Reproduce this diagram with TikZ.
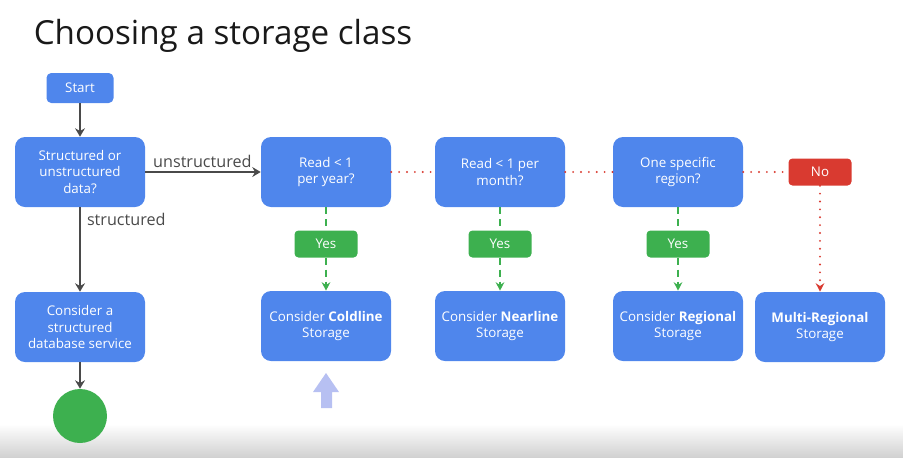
\documentclass[tikz,border=0pt]{standalone}
\usepackage{fontspec}
\setmainfont{Open Sans}
\usepackage{tikz}
\usetikzlibrary{arrows.meta}
\definecolor{gBlue}{HTML}{4F86EC}
\definecolor{gGreen}{HTML}{3DB04F}
\definecolor{gRed}{HTML}{D93A30}
\definecolor{gLine}{HTML}{4A4A4A}
\definecolor{gPointer}{HTML}{B7C0F2}
\tikzstyle{fQuestion} = [rectangle, rounded corners=0.25cm, minimum width=3.25cm, minimum height=1.75cm, align=center, text=white, fill=gBlue, font=\fontsize{9.5}{12}\selectfont]
\tikzstyle{fStart} = [rectangle, rounded corners=0.12cm, minimum width=1.675cm, minimum height=0.75cm, text=white, fill=gBlue, font=\fontsize{9.5}{12}\selectfont]
\tikzstyle{fYes} = [rectangle, rounded corners=0.1cm, minimum width=1.575cm, minimum height=0.675cm, text=white, fill=gGreen, font=\fontsize{9.5}{12}\selectfont]
\tikzstyle{fNo} = [rectangle, rounded corners=0.1cm, minimum width=1.575cm, minimum height=0.675cm, text=white, fill=gRed, font=\fontsize{9.5}{12}\selectfont]
\tikzstyle{fEnd} = [circle, minimum size=1.35cm, inner sep=0pt, fill=gGreen]
\tikzstyle{fArrow} = [line width=1.3pt, draw=gLine, -{Stealth[length=6pt,width=7pt]}]
\tikzstyle{fYesLine} = [line width=1.4pt, draw=gGreen, dash pattern=on 5pt off 3.5pt]
\tikzstyle{fNoLine} = [line width=1.5pt, draw=gRed, line cap=round, dash pattern=on 0pt off 5.6pt]
\tikzstyle{fLabel} = [text=gLine, font=\fontsize{11.5}{14}\selectfont]

\begin{document}
\begin{tikzpicture}[node distance=2cm]
    \useasboundingbox (0,0) rectangle (22.575,-11.425);
    \shade[top color=white, bottom color=black!18] (0,-10.6) rectangle (22.575,-11.425);
    \node (title) [anchor=base west, text=black!90, font=\fontsize{23.6}{28}\selectfont] at (0.72,-1.1) {Choosing a storage class};

    \node (start) [fStart] at (2.0,-2.2) {Start};
    \node (dataKind) [fQuestion, below of=start, yshift=-0.1cm] {Structured or\\unstructured\\data?};
    \node (structDb) [fQuestion, below of=dataKind, yshift=-1.875cm] {Consider a\\structured\\database service};
    \node (finish) [fEnd, below of=structDb, yshift=-0.225cm] {};

    \node (readYear) [fQuestion, right of=dataKind, xshift=4.15cm] {Read < 1\\per year?};
    \node (readMonth) [fQuestion, right of=readYear, xshift=2.35cm] {Read < 1 per\\month?};
    \node (oneRegion) [fQuestion, right of=readMonth, xshift=2.45cm] {One specific\\region?};
    \node (noRegion) [fNo, right of=oneRegion, xshift=1.55cm] {No};

    \node (yesYear) [fYes, below of=readYear, yshift=0.2cm] {Yes};
    \node (yesMonth) [fYes, below of=readMonth, yshift=0.2cm] {Yes};
    \node (yesRegion) [fYes, below of=oneRegion, yshift=0.2cm] {Yes};

    \node (coldline) [fQuestion, below of=yesYear, yshift=-0.05cm] {Consider \textbf{Coldline}\\Storage};
    \node (nearline) [fQuestion, below of=yesMonth, yshift=-0.05cm] {Consider \textbf{Nearline}\\Storage};
    \node (regional) [fQuestion, below of=yesRegion, yshift=-0.05cm] {Consider \textbf{Regional}\\Storage};
    \node (multi) [fQuestion, below of=noRegion, yshift=-1.875cm] {\textbf{Multi-Regional}\\Storage};

    \draw [fArrow] (start) -- (dataKind);
    \draw [fArrow] (dataKind) -- node[fLabel, anchor=south west, pos=0.02, yshift=-1pt] {unstructured} (readYear);
    \draw [fArrow] (dataKind) -- node[fLabel, anchor=north west, pos=0.0, xshift=1pt] {structured} (structDb);
    \draw [fArrow] (structDb) -- (finish);

    \draw [fNoLine] (readYear) -- (readMonth);
    \draw [fNoLine] (readMonth) -- (oneRegion);
    \draw [fNoLine] (oneRegion) -- (noRegion);
    \draw [fNoLine, -{Stealth[length=6pt,width=6pt]}] (noRegion) -- (multi);

    \draw [fYesLine] (readYear) -- (yesYear);
    \draw [fYesLine] (readMonth) -- (yesMonth);
    \draw [fYesLine] (oneRegion) -- (yesRegion);
    \draw [fYesLine, -{Stealth[length=6pt,width=6pt]}] (yesYear) -- (coldline);
    \draw [fYesLine, -{Stealth[length=6pt,width=6pt]}] (yesMonth) -- (nearline);
    \draw [fYesLine, -{Stealth[length=6pt,width=6pt]}] (yesRegion) -- (regional);

    % pointer under the coldline box
    \fill[gPointer] (7.825,-9.8) -- (8.15,-9.325) -- (8.475,-9.8) -- (8.3,-9.8) -- (8.3,-10.2) -- (8.025,-10.2) -- (8.025,-9.8) -- cycle;
\end{tikzpicture}
\end{document}
